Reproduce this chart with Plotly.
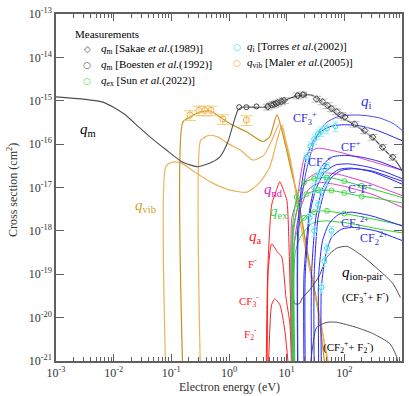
import plotly.graph_objects as go

# ---------------- data ----------------
# momentum transfer cross section q_m
qm_E = [0.001, 0.0065, 0.015, 0.028, 0.043, 0.08, 0.158, 0.29, 0.35, 0.5, 0.69, 0.95, 1.17, 1.42, 1.66, 3.0, 5.1, 7.0, 11.4, 19, 27.5, 38, 56, 84, 125, 187, 311, 546, 814, 1000]
qm_s = [1.23e-15, 9.3e-16, 5.0e-16, 2.4e-16, 1.45e-16, 7.5e-17, 3.8e-17, 3.0e-17, 3.2e-17, 3.8e-17, 5.0e-17, 1.1e-16, 2.75e-16, 6.0e-16, 7.1e-16, 7.1e-16, 7.3e-16, 8.6e-16, 1.15e-15, 1.35e-15, 1.35e-15, 1.02e-15, 6.8e-16, 4.2e-16, 3.2e-16, 2.3e-16, 1.4e-16, 6.5e-17, 3.8e-17, 2.5e-17]

# vibrational excitation q_vib (three modes)
vib1_E = [0.08, 0.08, 0.1, 0.14, 0.28, 0.52, 1.04, 2.04, 3.4, 5.1, 6.8, 8.3, 10, 13, 16, 25, 38, 55]
vib1_s = [5e-22, 3.0e-17, 3.8e-17, 3.8e-17, 2.1e-17, 1.26e-17, 8.7e-18, 7.8e-18, 1.3e-17, 3.0e-17, 1.2e-16, 2.8e-16, 9e-17, 1.6e-17, 4e-18, 1.6e-19, 1.0e-20, 5e-22]
vib2_E = [0.158, 0.158, 0.21, 0.31, 0.47, 0.7, 1.03, 2.04, 3.9, 5.1, 6.8, 9, 12, 15.6, 25, 35, 48]
vib2_s = [5e-22, 3.2e-16, 4.2e-16, 5.5e-16, 5.8e-16, 4.2e-16, 3.0e-16, 1.9e-16, 1.15e-16, 1.5e-16, 4.7e-16, 1.3e-16, 2.5e-17, 6e-18, 1.7e-19, 1.5e-20, 5e-22]
vib3_E = [0.32, 0.32, 0.38, 0.47, 0.65, 1.0, 1.57, 2.6, 4.0, 5.5, 7.6, 10, 13, 16.6, 25, 40, 58]
vib3_s = [5e-22, 1.2e-16, 1.45e-16, 1.6e-16, 1.45e-16, 1.0e-16, 7.3e-17, 4.3e-17, 5.5e-17, 1.2e-16, 3.0e-16, 1.0e-16, 2e-17, 2e-18, 1.3e-19, 6e-21, 5e-22]

# neutral dissociation q_nd
nd1_E = [12.3, 12.3, 15, 20.6, 33, 83, 245, 1000]
nd1_s = [5e-22, 2e-18, 5e-18, 5e-17, 8e-17, 6.5e-17, 4.3e-17, 2.5e-17]
nd2_E = [12.8, 12.8, 16, 22, 35, 80, 250, 1000]
nd2_s = [5e-22, 1e-18, 4e-18, 1.5e-17, 2.2e-17, 2e-17, 1.3e-17, 6.5e-18]
nd3_E = [13.5, 13.5, 17, 24, 38, 90, 300, 1000]
nd3_s = [5e-22, 5e-19, 3e-18, 9e-18, 1.3e-17, 1.1e-17, 7e-18, 3.5e-18]

# electronic excitation q_ex
ex1_E = [12.5, 12.5, 15, 20, 30, 55, 100, 250, 1000]
ex1_s = [5e-22, 1e-18, 6e-18, 1.3e-17, 1.6e-17, 1.7e-17, 1.4e-17, 1e-17, 5.9e-18]
ex2_E = [13.0, 13.0, 16, 22, 35, 60, 165, 400, 1000]
ex2_s = [5e-22, 8e-19, 4e-18, 7e-18, 8.7e-18, 8.5e-18, 6.6e-18, 5.5e-18, 4.4e-18]
ex3_E = [13.5, 13.5, 17, 25, 40, 100, 300, 1000]
ex3_s = [5e-22, 5e-19, 1.5e-18, 2.6e-18, 2.9e-18, 2.5e-18, 1.9e-18, 1.35e-18]
ex4_E = [14.0, 14.0, 18, 28, 45, 120, 400, 1000]
ex4_s = [5e-22, 3e-19, 8e-19, 1.5e-18, 1.7e-18, 1.5e-18, 1.1e-18, 9e-19]
sun_E = [15, 20, 30, 50, 100, 200, 16, 22, 35, 60, 100, 200, 20, 30, 50, 100]
sun_s = [6e-18, 1.3e-17, 1.6e-17, 1.7e-17, 1.4e-17, 1.1e-17, 4e-18, 7e-18, 8.7e-18, 8.5e-18, 7.5e-18, 6.2e-18, 2e-18, 2.7e-18, 2.9e-18, 2.5e-18]

# ionization q_i (total + partials)
qi_E = [15.7, 15.7, 18, 22, 30, 38, 50, 74, 110, 165, 250, 412, 700, 1000]
qi_s = [5e-22, 5e-19, 5e-18, 2.5e-17, 1.1e-16, 2.1e-16, 3.2e-16, 4.2e-16, 4.6e-16, 4.7e-16, 4.5e-16, 4.0e-16, 3.0e-16, 2.1e-16]
cf3p_E = [15.5, 15.5, 18, 22, 30, 40, 60, 100, 200, 400, 1000]
cf3p_s = [5e-22, 1e-18, 1e-17, 5e-17, 1.3e-16, 2.0e-16, 2.6e-16, 2.8e-16, 2.6e-16, 2.0e-16, 1.2e-16]
cfp_E = [20, 20, 25, 30, 40, 60, 100, 200, 400, 1000]
cfp_s = [5e-22, 1e-19, 3e-18, 1e-17, 3e-17, 5e-17, 5.5e-17, 5e-17, 4e-17, 2.5e-17]
cf2p_E = [21, 21, 26, 32, 45, 70, 120, 250, 500, 1000]
cf2p_s = [5e-22, 1e-19, 3e-18, 9e-18, 2.2e-17, 3.3e-17, 3.5e-17, 3e-17, 2.3e-17, 1.6e-17]
cp_E = [27, 27, 32, 40, 55, 80, 130, 300, 1000]
cp_s = [5e-22, 1e-19, 2e-18, 8e-18, 1.8e-17, 2.6e-17, 2.8e-17, 2.3e-17, 1.2e-17]
fp_E = [30, 30, 35, 45, 60, 90, 150, 300, 1000]
fp_s = [5e-22, 1e-19, 2e-18, 8e-18, 1.7e-17, 2.5e-17, 2.7e-17, 2.4e-17, 1.4e-17]
cf3pp_E = [36, 36, 42, 55, 80, 130, 300, 1000]
cf3pp_s = [5e-22, 1e-19, 6e-19, 1.5e-18, 2.4e-18, 2.7e-18, 2.2e-18, 1.3e-18]
cf2pp_E = [40, 40, 48, 60, 90, 150, 350, 1000]
cf2pp_s = [5e-22, 5e-20, 3e-19, 7e-19, 1.1e-18, 1.2e-18, 1e-18, 6e-19]
torres_E = [22, 26, 30, 35, 40, 50, 70, 25, 30, 35, 40, 50, 30, 35, 40, 50, 40, 45, 50, 60]
torres_s = [5e-17, 9e-17, 1.3e-16, 1.7e-16, 2.0e-16, 2.3e-16, 2.6e-16, 2e-18, 1e-17, 1.8e-17, 2.4e-17, 3e-17, 1e-18, 4e-18, 8e-18, 1.5e-17, 5e-20, 2e-19, 4e-19, 1e-18]

# electron attachment q_a
fm_E = [4.4, 4.7, 5.5, 6.5, 7.6, 9.0, 10.1, 11.4, 12.4]
fm_s = [5e-22, 1.2e-19, 4e-18, 8e-18, 1.35e-17, 8e-18, 5e-18, 7e-20, 5e-22]
cf3m_E = [4.6, 4.8, 5.5, 7.0, 8.2, 9.7, 11.4, 12.2]
cf3m_s = [5e-22, 1.2e-19, 5e-19, 3.2e-19, 2.5e-19, 3e-20, 7e-21, 5e-22]
f2m_E = [4.8, 5.5, 6.2, 7.6, 9.3, 11.0]
f2m_s = [5e-22, 2e-20, 2.7e-20, 2e-20, 5e-21, 5e-22]

# ion-pair formation
ip1_E = [12.2, 12.3, 13.8, 16.6, 18.9, 25, 37, 50, 74, 110, 187, 412, 690, 940]
ip1_s = [5e-22, 8.5e-20, 2.1e-20, 2.1e-20, 2.9e-20, 4.3e-20, 9.3e-20, 2.5e-19, 4e-19, 4.4e-19, 2.9e-19, 1.2e-19, 6.2e-20, 2.9e-20]
ip2_E = [25, 28, 33, 50, 74, 165, 311, 617, 815, 900]
ip2_s = [5e-22, 2e-21, 5.9e-21, 7.8e-21, 7.8e-21, 5.9e-21, 4.3e-21, 2.5e-21, 1.2e-21, 5e-22]

# measurements
sakae_E = [4.7, 5.5, 6.0, 6.5, 7.0, 8.0, 9.0, 15.5, 19, 33, 42, 51, 60, 74, 90, 102, 150, 225, 310, 460, 690]
sakae_s = [7.2e-16, 8.0e-16, 8.3e-16, 8.6e-16, 9.0e-16, 9.6e-16, 1.02e-15, 1.3e-15, 1.38e-15, 1.1e-15, 9.5e-16, 7.8e-16, 6.6e-16, 5.6e-16, 4.6e-16, 4.2e-16, 2.9e-16, 2.05e-16, 1.45e-16, 8.5e-17, 5e-17]
boesten_E = [1.5, 2.0, 3.0, 4.7, 8.5, 15.6, 20]
boesten_s = [7.1e-16, 7.1e-16, 7.4e-16, 7.6e-16, 9.6e-16, 1.35e-15, 1.38e-15]
maler_E = [0.21, 0.30, 0.38, 0.49, 0.78, 2.0]
maler_s = [4.7e-16, 6e-16, 6e-16, 6e-16, 3.8e-16, 3.6e-16]

# axis ticks
xtick_vals = [1e-3, 1e-2, 1e-1, 1, 10, 100, 1000]
xtick_text = ["10<sup>-3</sup>", "10<sup>-2</sup>", "10<sup>-1</sup>", "10<sup>0</sup>", "10<sup>1</sup>", "10<sup>2</sup>", "10<sup>3</sup>"]
ytick_vals = [1e-21, 1e-20, 1e-19, 1e-18, 1e-17, 1e-16, 1e-15, 1e-14, 1e-13]
ytick_text = ["10<sup>-21</sup>", "10<sup>-20</sup>", "10<sup>-19</sup>", "10<sup>-18</sup>", "10<sup>-17</sup>", "10<sup>-16</sup>", "10<sup>-15</sup>", "10<sup>-14</sup>", "10<sup>-13</sup>"]

# legend entries: (glyph, colour, label, column, row)
legend_items = [
    ("\u25C7", "#505050", "<i>q</i><sub>m</sub> [Sakae <i>et al.</i>(1989)]", 0, 0),
    ("\u25CB", "#505050", "<i>q</i><sub>m</sub> [Boesten <i>et al.</i>(1992)]", 0, 1),
    ("\u25CB", "#40E040", "<i>q</i><sub>ex</sub> [Sun <i>et al.</i>(2022)]", 0, 2),
    ("\u25CB", "#30E0F0", "<i>q</i><sub>i</sub> [Torres <i>et al.</i>(2002)]", 1, 0),
    ("\u25CB", "#F0B040", "<i>q</i><sub>vib</sub> [Maler <i>et al.</i>(2005)]", 1, 1),
]

# ---------------- figure ----------------
SERIF = "Liberation Serif"
fig = go.Figure()

def line(E, s, color, width=1.0, shape="spline"):
    fig.add_trace(go.Scatter(x=E, y=s, mode="lines", showlegend=False, hoverinfo="skip",
                             line=dict(color=color, width=width, shape=shape, smoothing=0.6)))

GOLD_L = "#EDB25A"
GOLD_D = "#C8901E"
MAG = "#E040C8"
GREEN = "#30D030"
BLUE = "#2828F0"
RED = "#FF2020"
GREY = "#505050"

line(vib1_E, vib1_s, GOLD_L, 1.2)
line(vib2_E, vib2_s, GOLD_D, 1.2)
line(vib3_E, vib3_s, GOLD_L, 1.2)
line(fm_E, fm_s, RED)
line(cf3m_E, cf3m_s, RED)
line(f2m_E, f2m_s, RED)
line(ip1_E, ip1_s, GREY)
line(ip2_E, ip2_s, GREY)
line(nd1_E, nd1_s, MAG)
line(nd2_E, nd2_s, MAG)
line(nd3_E, nd3_s, MAG)
for E, s in [(ex1_E, ex1_s), (ex2_E, ex2_s), (ex3_E, ex3_s), (ex4_E, ex4_s)]:
    line(E, s, GREEN)
line(qi_E, qi_s, "#4848F0")
for E, s in [(cf3p_E, cf3p_s), (cfp_E, cfp_s), (cf2p_E, cf2p_s), (cp_E, cp_s),
             (fp_E, fp_s), (cf3pp_E, cf3pp_s), (cf2pp_E, cf2pp_s)]:
    line(E, s, BLUE)
line(qm_E, qm_s, GREY, 1.1)

def markers(E, s, symbol, color, size, err=None, errcolor=None, errw=4):
    kw = {}
    if err:
        kw["error_y"] = dict(type="percent", value=err, color=errcolor, thickness=1, width=errw)
    fig.add_trace(go.Scatter(x=E, y=s, mode="markers", showlegend=False, hoverinfo="skip",
                             marker=dict(symbol=symbol, size=size, color=color, line=dict(width=1)), **kw))

markers(torres_E, torres_s, "circle-open", "#30E0F0", 5, 25, "#9AF0F8", 3)
markers(sun_E, sun_s, "circle-open", "#40E040", 5)
markers(maler_E, maler_s, "circle-open", "#F0B040", 6, 25, "#F5C878", 6)
markers(boesten_E, boesten_s, "circle-open", "#404040", 5)
markers(sakae_E, sakae_s, "diamond-open", "#404040", 5, 15, "#C0C0C0", 5)

# ---------------- layout geometry (window pixels) ----------------
W, H = 409, 396
L, R, T, B = 56, 402, 14, 361
def px(x, y):
    return (x - L) / (R - L), (B - y) / (B - T)

def text(t, x, y, color="black", size=11, xanchor="center", angle=0):
    xp, yp = px(x, y)
    fig.add_annotation(x=xp, y=yp, xref="paper", yref="paper", text=t, showarrow=False, textangle=angle,
                       font=dict(family=SERIF, size=size, color=color), xanchor=xanchor, yanchor="middle")

labels = [
    ("<i>q</i><sub>m</sub>", 88, 130, "black", 15),
    ("<i>q</i><sub>vib</sub>", 145, 206, "#D4A020", 15),
    ("<i>q</i><sub>nd</sub>", 273, 190, "#E020B0", 15),
    ("<i>q</i><sub>ex</sub>", 279, 212, "#40D040", 15),
    ("<i>q</i><sub>a</sub>", 255, 237, RED, 15),
    ("F<sup>-</sup>", 252, 263, RED, 11),
    ("CF<sub>3</sub><sup>-</sup>", 249, 301, RED, 11),
    ("F<sub>2</sub><sup>-</sup>", 250, 334, RED, 11),
    ("<i>q</i><sub>i</sub>", 366, 102, "#3030E0", 15),
    ("CF<sub>3</sub><sup>+</sup>", 305, 118, "#3030E0", 12),
    ("CF<sup>+</sup>", 351, 146, "#3030E0", 12),
    ("CF<sub>2</sub><sup>+</sup>", 320, 162, "#3030E0", 12),
    ("C<sup>+</sup>F<sup>+</sup>", 360, 188, "#3030E0", 12),
    ("CF<sub>3</sub><sup>2+</sup>", 355, 223, "#3030E0", 12),
    ("CF<sub>2</sub><sup>2+</sup>", 374, 238, "#3030E0", 12),
    ("<i>q</i><sub>ion-pair</sub>", 362, 273, "black", 15),
    ("(CF<sub>3</sub><sup>+</sup>+ F<sup>-</sup>)", 365, 297, "black", 11),
    ("(CF<sub>2</sub><sup>+</sup>+ F<sub>2</sub><sup>-</sup>)", 348, 347, "black", 11),
]
for t, x, y, c, sz in labels:
    text(t, x, y, c, sz)

# legend (drawn as text)
text("Measurements", 73, 34, "black", 11, "left")
col_x = [(87, 99), (237, 245)]
row_y = [[49, 65, 81], [47, 63]]
for glyph, c, lab, col, row in legend_items:
    gx, tx = col_x[col]
    y = row_y[col][row]
    xp, yp = px(gx, y)
    fig.add_annotation(x=xp, y=yp, xref="paper", yref="paper", text=glyph, showarrow=False,
                       font=dict(family="DejaVu Sans", size=9, color=c), xanchor="center", yanchor="middle")
    text(lab, tx, y, "black", 11, "left")

# axis titles
text("Electron energy (eV)", 229, 387, "#333", 12)
text("Cross section (cm<sup>2</sup>)", 12, 190, "#333", 12, angle=-90)

axis_common = dict(type="log", showline=True, linecolor="#606060", linewidth=1.5, mirror="ticks",
                   ticks="inside", tickcolor="#606060", tickwidth=1, showgrid=False, zeroline=False,
                   automargin=False, tickfont=dict(family=SERIF, size=12, color="#333"))

fig.update_layout(
    width=W, height=H,
    margin=dict(l=L, r=W - R, t=T, b=H - B),
    paper_bgcolor="white", plot_bgcolor="white",
    xaxis=dict(range=[-3, 3], tickvals=xtick_vals, ticktext=xtick_text, ticklen=7,
               minor=dict(ticks="inside", ticklen=4, tickcolor="#606060",
                          tickvals=[m * 10 ** k for k in range(-3, 3) for m in range(2, 10)]),
               **axis_common),
    yaxis=dict(range=[-21, -13], tickvals=ytick_vals, ticktext=ytick_text, ticklen=8, **axis_common),
    showlegend=False,
)

# remove the browser's default 8px page margin so the figure fills the window exactly
fig.write_html("out.html", config={"displayModeBar": False},
               post_script="document.body.style.margin='0px';document.body.style.overflow='hidden';")
